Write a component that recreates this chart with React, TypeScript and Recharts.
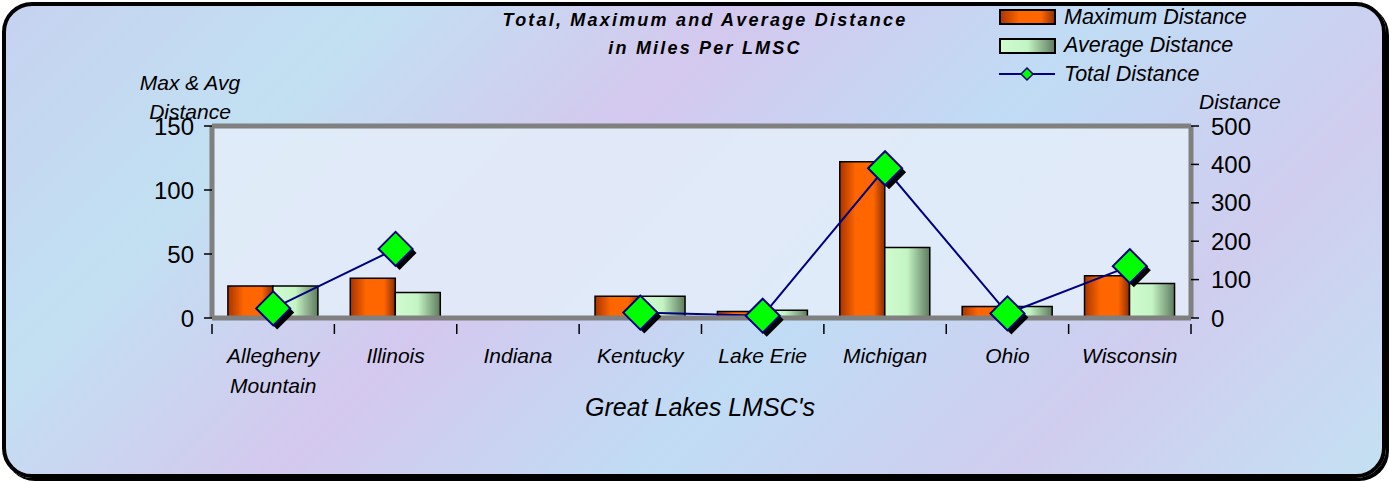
import React from "react";
import { ComposedChart, Bar, Line, XAxis, YAxis, CartesianGrid, ReferenceLine } from "recharts";

const categories = ["Allegheny Mountain", "Illinois", "Indiana", "Kentucky", "Lake Erie", "Michigan", "Ohio", "Wisconsin"];
const maxDistance = [25, 31, null, 17, 5, 122, 9, 33];
const avgDistance = [25, 20, null, 17, 6, 55, 9, 27];
const totalDistance = [25, 180, null, 14, 6, 390, 12, 135];
const leftTicks = [0, 50, 100, 150];
const rightTicks = [0, 100, 200, 300, 400, 500];
const legendItems = [
  { label: "Maximum Distance", key: "max" },
  { label: "Average Distance", key: "avg" },
  { label: "Total Distance", key: "total" },
];

const data = categories.map((c, i) => ({
  name: c,
  max: maxDistance[i],
  avg: avgDistance[i],
  total: totalDistance[i],
}));

const FONT = "'Liberation Sans', Arial, sans-serif";

const Diamond = (props: any) => {
  const { cx, cy, value } = props;
  if (value == null || cx == null || cy == null) return null;
  const r = 17;
  const s = 4;
  const pts = (dx: number, dy: number) =>
    `${cx + dx},${cy - r + dy} ${cx + r + dx},${cy + dy} ${cx + dx},${cy + r + dy} ${cx - r + dx},${cy + dy}`;
  return (
    <g>
      <polygon points={pts(s, s)} fill="#000" />
      <polygon points={pts(0, 0)} fill="#00ff00" stroke="#000080" strokeWidth={2} />
    </g>
  );
};

const CatTick = (props: any) => {
  const { x, y, payload, index, visibleTicksCount } = props;
  const words = String(payload.value) === "Allegheny Mountain" ? ["Allegheny", "Mountain"] : [String(payload.value)];
  const off = typeof payload.offset === "number" ? payload.offset : 0;
  return (
    <g>
      {off > 0 && <line x1={x - off} x2={x - off} y1={y - 2} y2={y + 8} stroke="#000" strokeWidth={1.5} />}
      {off > 0 && index === visibleTicksCount - 1 && (
        <line x1={x + off} x2={x + off} y1={y - 2} y2={y + 8} stroke="#000" strokeWidth={1.5} />
      )}
      {words.map((w, i) => (
        <text key={i} x={x} y={y + 37 + i * 30} textAnchor="middle" fontFamily={FONT} fontStyle="italic" fontSize={21} fill="#000">
          {w}
        </text>
      ))}
    </g>
  );
};

const LegendBox = () => (
  <div style={{ position: "absolute", left: 999, top: 3, fontFamily: FONT, fontStyle: "italic", fontSize: 21.5, color: "#000" }}>
    {legendItems.map((it) => (
      <div key={it.key} style={{ display: "flex", alignItems: "center", height: 28.5 }}>
        <svg width={58} height={20} style={{ marginRight: 7 }}>
          {it.key === "max" && <rect x={1} y={3} width={55} height={14} fill="url(#gOrange)" stroke="#000" strokeWidth={2} />}
          {it.key === "avg" && <rect x={1} y={3} width={55} height={14} fill="url(#gGreen)" stroke="#000" strokeWidth={2} />}
          {it.key === "total" && (
            <g>
              <line x1={0} y1={10} x2={56} y2={10} stroke="#000080" strokeWidth={2} />
              <polygon points="28,4 34,10 28,16 22,10" fill="#00ff00" stroke="#000080" strokeWidth={1.5} />
            </g>
          )}
        </svg>
        <span>{it.label}</span>
      </div>
    ))}
  </div>
);

export default function App() {
  return (
    <div style={{ position: "fixed", left: 0, top: 0, width: 1389, height: 481, background: "#fff" }}>
      <div
        style={{
          position: "absolute",
          left: 2,
          top: 2,
          width: 1376,
          height: 468,
          borderRadius: 30,
          border: "4px solid #000",
          boxShadow: "3px 3px 0 #000",
          background:
            "linear-gradient(135deg, #c6d2f0 0%, #c2e0f2 20%, #d4c8ee 40%, #c0dcf4 60%, #d0cdef 80%, #c4e0f2 100%)",
        }}
      />
      <div style={{ position: "absolute", left: 0, top: 0 }}>
        <ComposedChart
          width={1389}
          height={481}
          data={data}
          margin={{ top: 126, right: 138, bottom: 133, left: 152 }}
          barCategoryGap="13%"
          barGap={0}
        >
          <defs>
            <linearGradient id="gOrange" x1="0" y1="0" x2="1" y2="0">
              <stop offset="0%" stopColor="#a83400" />
              <stop offset="35%" stopColor="#ff6600" />
              <stop offset="75%" stopColor="#ff6600" />
              <stop offset="100%" stopColor="#8a2c00" />
            </linearGradient>
            <linearGradient id="gGreen" x1="0" y1="0" x2="1" y2="0">
              <stop offset="0%" stopColor="#d0fcd0" />
              <stop offset="50%" stopColor="#c4f4c4" />
              <stop offset="100%" stopColor="#5e7a5e" />
            </linearGradient>
          </defs>
          <CartesianGrid fill="#e2ecf8" fillOpacity={0.9} horizontal={false} vertical={false} />
          <XAxis
            dataKey="name"
            xAxisId="main"
            height={30}
            interval={0}
            axisLine={{ stroke: "#808080", strokeWidth: 5 }}
            tickLine={false}
            tick={<CatTick />}
          />
          <YAxis
            yAxisId="left"
            domain={[0, 150]}
            ticks={leftTicks}
            width={60}
            axisLine={{ stroke: "#808080", strokeWidth: 5 }}
            tickLine={{ stroke: "#000", strokeWidth: 1.5 }}
            tickSize={8}
            tickMargin={10}
            tick={{ fontFamily: FONT, fontSize: 24, fill: "#000" }}
          />
          <YAxis
            yAxisId="right"
            orientation="right"
            domain={[0, 500]}
            ticks={rightTicks}
            width={60}
            axisLine={{ stroke: "#808080", strokeWidth: 5 }}
            tickLine={{ stroke: "#000", strokeWidth: 1.5 }}
            tickSize={8}
            tickMargin={12}
            tick={{ fontFamily: FONT, fontSize: 24, fill: "#000", textAnchor: "start" }}
          />
          <ReferenceLine xAxisId="main" yAxisId="left" y={150} stroke="#808080" strokeWidth={5} />
          <Bar xAxisId="main" yAxisId="left" dataKey="max" name="Maximum Distance" fill="url(#gOrange)" stroke="#000" strokeWidth={1.5} isAnimationActive={false} />
          <Bar xAxisId="main" yAxisId="left" dataKey="avg" name="Average Distance" fill="url(#gGreen)" stroke="#000" strokeWidth={1.5} isAnimationActive={false} />
          <Line
            xAxisId="main"
            yAxisId="right"
            type="linear"
            dataKey="total"
            name="Total Distance"
            stroke="#000080"
            strokeWidth={2}
            dot={<Diamond />}
            activeDot={false}
            connectNulls={false}
            isAnimationActive={false}
          />
        </ComposedChart>
      </div>
      <LegendBox />
      <div
        style={{
          position: "absolute",
          left: 355,
          top: 6,
          width: 700,
          textAlign: "center",
          fontFamily: FONT,
          fontWeight: "bold",
          fontStyle: "italic",
          fontSize: 18,
          letterSpacing: 2.2,
          lineHeight: "28px",
          color: "#000",
        }}
      >
        Total, Maximum and Average Distance
        <br />
        in Miles Per LMSC
      </div>
      <div
        style={{
          position: "absolute",
          left: 110,
          top: 68,
          width: 160,
          textAlign: "center",
          fontFamily: FONT,
          fontStyle: "italic",
          fontSize: 21,
          lineHeight: "29px",
          color: "#000",
        }}
      >
        Max &amp; Avg
        <br />
        Distance
      </div>
      <div style={{ position: "absolute", left: 1199, top: 90, fontFamily: FONT, fontStyle: "italic", fontSize: 21, color: "#000" }}>Distance</div>
      <div
        style={{
          position: "absolute",
          left: 450,
          top: 393,
          width: 500,
          textAlign: "center",
          fontFamily: FONT,
          fontStyle: "italic",
          fontSize: 25,
          color: "#000",
        }}
      >
        Great Lakes LMSC's
      </div>
    </div>
  );
}
